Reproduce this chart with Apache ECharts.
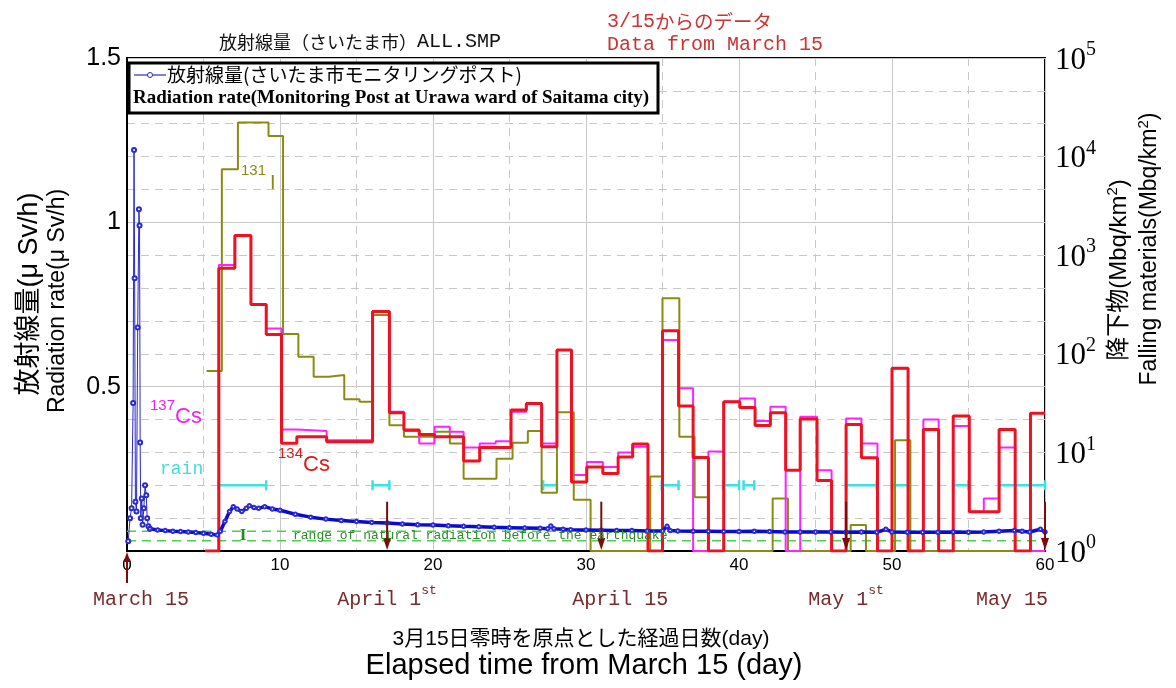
<!DOCTYPE html>
<html>
<head>
<meta charset="utf-8">
<script src="https://cdn.jsdelivr.net/npm/echarts@6/dist/echarts.min.js"></script>
<style>
html,body{margin:0;padding:0;background:#fff}
#chart{width:1176px;height:688px}
</style>
</head>
<body>
<div id="chart"></div>
<script>
// ---- data -------------------------------------------------------------
// Not-detected daily fallout is drawn on the baseline of the log axis.
const ND = 1;

// Air dose rate at the monitoring post (uSv/h), [elapsed day, value]
const doseEarly = [
  [0.08,0.03],[0.2,0.10],[0.3,0.13],[0.4,0.45],[0.46,1.22],[0.5,0.83],[0.55,0.15],
  [0.62,0.12],[0.7,0.68],[0.78,1.04],[0.82,0.99],[0.86,0.33],[0.9,0.10],[0.96,0.16],
  [1.02,0.08],[1.1,0.13],[1.18,0.20],[1.26,0.17],[1.32,0.10],[1.4,0.075],[1.5,0.068]
];
const doseLater = [
  [1.5,0.068],[2,0.064],[2.5,0.062],[3,0.060],[3.5,0.059],[4,0.058],[4.5,0.056],[5,0.054],
  [5.5,0.051],[5.9,0.049],[6.1,0.060],[6.4,0.090],[6.7,0.120],[6.95,0.135],[7.2,0.128],
  [7.5,0.120],[7.8,0.130],[8.0,0.138],[8.3,0.132],[8.6,0.130],[9.0,0.135],[9.5,0.128],
  [10,0.124],[11,0.112],[12,0.103],[13,0.097],[14,0.093],[15,0.090],[16,0.087],[17,0.085],
  [18,0.082],[19,0.080],[20,0.079],[21,0.077],[22,0.075],[23,0.074],[24,0.072],[25,0.071],
  [26,0.070],[27,0.069],[27.5,0.068],[27.7,0.076],[27.9,0.068],[28.5,0.066],[29,0.065],
  [30,0.064],[31,0.063],[32,0.062],[33,0.062],[34,0.061],[35,0.061],[35.3,0.075],[35.5,0.062],
  [36,0.061],[37,0.060],[38,0.060],[39,0.059],[40,0.059],[41,0.060],[42,0.059],[43,0.058],
  [44,0.058],[45,0.058],[46,0.058],[47,0.057],[48,0.058],[49,0.057],[49.6,0.066],[50,0.058],
  [51,0.057],[52,0.057],[53,0.057],[54,0.058],[55,0.057],[56,0.058],[57,0.060],[58,0.062],
  [58.5,0.060],[59,0.058],[59.7,0.066],[60,0.058]
];

// Natural background range before the earthquake (uSv/h)
const naturalRange = [0.031, 0.060];

// Daily fallout (MBq/km2): interval edges (day) and the value for each interval
const i131Edges  = [5.2,6.2,7.25,9.25,10.2,11.2,12.2,13.2,14.2,15.2,16.05,17.15,18.1,19.1,20.1,21.1,22.0,24.15,25.2,26.2,27.1,28.1,29.2,30.3,34.2,35.0,36.1,37.1,38.0,42.2,43.2,47.3,48.3,50.2,51.2,60];
const i131Values = [67,7430,22200,16200,159,93.6,58.6,61,34.5,32.7,248,18.9,14.4,14.4,16.2,12.3,5.4,8.6,12.5,16.5,3.9,25.5,3.3,ND,5.7,366,14.4,3.5,ND,3.4,ND,1.83,ND,13.3,ND];

const cs137Edges  = [5.1,6.0,7.05,8.1,9.1,10.1,11.1,13.05,16.05,17.15,18.1,19.1,20.1,21.1,22.0,23.05,24.1,25.1,26.1,27.1,28.1,29.05,30.05,31.1,32.1,33.05,34.05,35.0,36.05,37.0,38.0,39.0,40.05,41.05,42.05,43.05,44.0,45.1,46.05,47.0,48.0,49.05,50.0,51.05,52.05,53.05,54.0,55.05,56.0,57.0,58.05,60];
const cs137Values = [ND,795,1580,317,181,17.1,16.5,13.3,268,25.9,16.5,12.3,18.2,16.2,11.2,12.3,13.0,25.9,31.4,12.3,109,5.9,8.0,7.1,10.0,11.4,ND,138,44.7,ND,10.2,32.7,35.3,20.8,29.1,ND,23,6.6,ND,22.1,12.3,ND,71.3,ND,21.6,ND,18.5,2.5,3.4,11.2,ND];

const cs134Edges  = [5.1,6.0,7.05,8.1,9.1,10.1,11.1,13.05,16.05,17.15,18.1,19.1,20.1,22.0,23.05,25.1,26.1,27.1,28.1,29.05,30.05,31.1,32.1,33.05,34.05,35.0,36.05,37.0,38.0,39.0,40.05,41.05,42.05,43.05,44.0,45.1,46.05,47.0,48.0,49.05,50.0,51.05,52.05,53.05,54.0,55.05,57.0,58.05,59.05,60];
const cs134Values = [ND,736,1580,317,157,12.4,14.4,12.8,268,25.3,16.9,15.2,14.4,8.2,11.2,26.9,31.4,11.4,109,5.0,7.1,6.1,9.0,12.2,ND,171,29.5,8.9,ND,32.7,28.6,18.7,25.3,6.6,21.8,5.2,ND,19.2,8.8,ND,71.3,ND,17.1,ND,23.4,2.5,17.1,ND,24.9];

// Rain periods [start day, end day] and the level they are drawn at (uSv/h scale)
const rainPeriods = [[6.0,9.1],[16.05,17.15],[27.2,28.1],[34.95,36.05],[38.95,40.0],[40.3,41.0],[47.0,49.0],[50.0,51.05],[54.0,55.0],[57.0,60.0]];
const rainLevel = 0.2;

// Calendar marks along the elapsed-day axis
const dateMarkDays = [0, 17, 31, 47, 61];
const dateMarkLabels = ['{m|March 15}', '{m|April 1}{s|st}', '{m|April 15}', '{m|May 1}{s|st}', '{m|May 15}'];

// Axis settings
const xMax = 60, xMajor = 10, xMinor = 5;
const doseMax = 1.5, doseMajor = 0.5, doseMinor = 0.1;
const falloutMin = 1, falloutMax = 100000;

// ---- helpers ----------------------------------------------------------
function stepPoints(edges, values) {
  return edges.map((e, i) => [e, values[Math.min(i, values.length - 1)]]);
}

const SANS = "'Liberation Sans', 'Noto Sans CJK JP', sans-serif";
const SERIF = "'Liberation Serif', serif";
const MONO = "'Liberation Mono', monospace";
const CJK = "'Noto Sans CJK JP', sans-serif";
const GRID = '#c8c8c8';

const chart = echarts.init(document.getElementById('chart'), null, {renderer: 'canvas'});

const option = {
  animation: false,
  backgroundColor: '#fff',
  grid: {left: 127, right: 131, top: 58, bottom: 137, show: true, borderColor: '#000', borderWidth: 2, backgroundColor: '#fff'},
  xAxis: [
    {
      type: 'value', min: 0, max: xMax, interval: xMajor,
      axisLine: {show: true, onZero: false, lineStyle: {color: '#000', width: 2}},
      axisTick: {show: false},
      axisLabel: {fontSize: 17, color: '#000', fontFamily: SANS, margin: 6},
      splitLine: {show: true, lineStyle: {color: GRID, width: 1}}
    },
    {
      type: 'value', min: 0, max: xMax, interval: xMinor, position: 'bottom',
      axisLine: {show: false}, axisTick: {show: false}, axisLabel: {show: false},
      splitLine: {show: true, lineStyle: {color: GRID, width: 1, type: [8, 6]}}
    }
  ],
  yAxis: [
    {
      type: 'value', min: 0, max: doseMax, interval: doseMajor, position: 'left',
      axisLine: {show: true, onZero: false, lineStyle: {color: '#000', width: 2}},
      axisTick: {show: false},
      axisLabel: {fontSize: 25, color: '#000', fontFamily: SANS, margin: 6,
        formatter: v => (v === 0 ? '' : String(v))},
      splitLine: {show: true, lineStyle: {color: GRID, width: 1}}
    },
    {
      type: 'log', logBase: 10, min: falloutMin, max: falloutMax, position: 'right',
      axisLine: {show: true, lineStyle: {color: '#000', width: 2}},
      axisTick: {show: false},
      splitLine: {show: false},
      axisLabel: {
        margin: 10, color: '#000',
        formatter: v => '{b|10}{s|' + Math.round(Math.log10(v)) + '}',
        rich: {
          b: {fontSize: 31, fontFamily: SERIF, color: '#000', lineHeight: 36, verticalAlign: 'bottom'},
          s: {fontSize: 20, fontFamily: SERIF, color: '#000', lineHeight: 36, verticalAlign: 'top'}
        }
      }
    },
    {
      type: 'value', min: 0, max: doseMax, interval: doseMinor, position: 'left',
      axisLine: {show: false}, axisTick: {show: false}, axisLabel: {show: false},
      splitLine: {show: true, lineStyle: {color: GRID, width: 1, type: [8, 6]}}
    }
  ],
  series: [
    // background range lines
    ...naturalRange.map(v => ({
      type: 'line', xAxisIndex: 0, yAxisIndex: 0, z: 3, silent: true,
      data: [[0, v], [xMax, v]], showSymbol: false,
      lineStyle: {color: '#4ccf4c', width: 1.5, type: [9, 6]}
    })),
    // rain periods
    {
      type: 'custom', xAxisIndex: 0, yAxisIndex: 0, z: 4,
      data: rainPeriods.map(p => [p[0], p[1], rainLevel]),
      encode: {x: [0, 1], y: 2},
      renderItem(params, api) {
        const a = api.coord([api.value(0), api.value(2)]);
        const b = api.coord([api.value(1), api.value(2)]);
        const h = 5;
        const st = {stroke: '#3fe0e0', lineWidth: 2.5};
        return {type: 'group', children: [
          {type: 'line', shape: {x1: a[0], y1: a[1], x2: b[0], y2: b[1]}, style: st},
          {type: 'line', shape: {x1: a[0], y1: a[1] - h, x2: a[0], y2: a[1] + h}, style: st},
          {type: 'line', shape: {x1: b[0], y1: b[1] - h, x2: b[0], y2: b[1] + h}, style: st}
        ]};
      }
    },
    // iodine-131
    {
      type: 'line', name: '131I', xAxisIndex: 0, yAxisIndex: 1, z: 5, step: 'end',
      data: stepPoints(i131Edges, i131Values), showSymbol: false,
      lineStyle: {color: '#8b8b14', width: 2}
    },
    // caesium-137
    {
      type: 'line', name: '137Cs', xAxisIndex: 0, yAxisIndex: 1, z: 6, step: 'end',
      data: stepPoints(cs137Edges, cs137Values), showSymbol: false,
      lineStyle: {color: '#ff22ff', width: 2}
    },
    // caesium-134
    {
      type: 'line', name: '134Cs', xAxisIndex: 0, yAxisIndex: 1, z: 7, step: 'end',
      data: stepPoints(cs134Edges, cs134Values), showSymbol: false,
      lineStyle: {color: '#f01020', width: 3}
    },
    // dose rate
    {
      type: 'line', name: 'doseEarly', xAxisIndex: 0, yAxisIndex: 0, z: 8,
      data: doseEarly, symbol: 'emptyCircle', symbolSize: 4, showSymbol: true,
      lineStyle: {color: '#2a2ac8', width: 1},
      itemStyle: {color: '#2a2ac8', borderWidth: 1}
    },
    {
      type: 'line', name: 'doseLater', xAxisIndex: 0, yAxisIndex: 0, z: 8,
      data: doseLater, symbol: 'emptyCircle', symbolSize: 3.5, showSymbol: true,
      lineStyle: {color: '#0a0ad0', width: 3.5},
      itemStyle: {color: '#2a2ad8', borderWidth: 1}
    },
    // calendar arrows and their labels
    {
      type: 'custom', xAxisIndex: 0, yAxisIndex: 0, z: 10, clip: false,
      data: dateMarkDays.map((d, i) => [Math.min(d, xMax), i]),
      encode: {x: 0},
      renderItem(params, api) {
        const idx = api.value(1);
        const base = api.coord([api.value(0), 0]);
        const x = base[0], y0 = base[1];
        const col = '#7a0c0c';
        const kids = [];
        if (idx === 0) {
          kids.push({type: 'line', shape: {x1: x, y1: y0 + 32, x2: x, y2: y0 + 6}, style: {stroke: col, lineWidth: 2}});
          kids.push({type: 'polygon', shape: {points: [[x, y0 + 1], [x - 3.5, y0 + 11], [x + 3.5, y0 + 11]]}, style: {fill: col}});
        } else {
          const top = api.coord([api.value(0), 0.15])[1];
          kids.push({type: 'line', shape: {x1: x, y1: top, x2: x, y2: y0 - 6}, style: {stroke: col, lineWidth: 2}});
          kids.push({type: 'polygon', shape: {points: [[x, y0 - 1], [x - 4, y0 - 13], [x + 4, y0 - 13]]}, style: {fill: col}});
        }
        const shift = [14, 0, 19, 0, -33][idx];
        kids.push({
          type: 'text', x: x + shift, y: y0 + 46,
          style: {
            text: dateMarkLabels[idx], align: 'center', verticalAlign: 'middle',
            rich: {
              m: {fontSize: 20, fontFamily: MONO, fill: '#7a2a2a', lineHeight: 26, verticalAlign: 'bottom'},
              s: {fontSize: 13, fontFamily: MONO, fill: '#7a2a2a', lineHeight: 26, verticalAlign: 'top'}
            }
          }
        });
        return {type: 'group', children: kids};
      }
    }
  ],
  graphic: [
    // title
    {type: 'text', x: 219, y: 42, z: 100, style: {
      text: '{j|放射線量（さいたま市）}{m|ALL.SMP}', verticalAlign: 'middle',
      rich: {j: {fontSize: 18, fontFamily: CJK, fill: '#111'}, m: {fontSize: 20, fontFamily: MONO, fill: '#111'}}
    }},
    {type: 'text', x: 607, y: 22, z: 100, style: {
      text: '{m|3/15}{j|からのデータ}', verticalAlign: 'middle',
      rich: {j: {fontSize: 19.5, fontFamily: CJK, fill: '#cc3333'}, m: {fontSize: 20, fontFamily: MONO, fill: '#cc3333'}}
    }},
    {type: 'text', x: 607, y: 45, z: 100, style: {
      text: 'Data from March 15', verticalAlign: 'middle', fontSize: 20, fontFamily: MONO, fill: '#cc3333'
    }},
    // legend box
    {type: 'rect', z: 100, shape: {x: 129, y: 63, width: 529, height: 50},
      style: {fill: '#fff', stroke: '#000', lineWidth: 3}},
    {type: 'line', z: 101, shape: {x1: 134, y1: 75, x2: 166, y2: 75}, style: {stroke: '#2a2ac8', lineWidth: 1.2}},
    {type: 'circle', z: 102, shape: {cx: 150, cy: 75, r: 2.5}, style: {fill: '#fff', stroke: '#2a2ac8', lineWidth: 1}},
    {type: 'text', x: 167, y: 75, z: 101, style: {
      text: '放射線量(さいたま市モニタリングポスト)', verticalAlign: 'middle', fontSize: 19, fontFamily: CJK, fill: '#000'
    }},
    {type: 'text', x: 133, y: 98, z: 101, style: {
      text: 'Radiation rate(Monitoring Post at Urawa ward of Saitama city)', verticalAlign: 'middle',
      fontSize: 19, fontWeight: 'bold', fontFamily: SERIF, fill: '#000'
    }},
    // axis names
    {type: 'text', x: 30, y: 294, rotation: Math.PI / 2, z: 100, style: {
      text: '放射線量(μ Sv/h)', align: 'center', verticalAlign: 'middle', fontSize: 27, fontFamily: SANS, fill: '#000'
    }},
    {type: 'text', x: 58, y: 301, rotation: Math.PI / 2, z: 100, style: {
      text: 'Radiation rate(μ Sv/h)', align: 'center', verticalAlign: 'middle', fontSize: 23, fontFamily: SANS, fill: '#000'
    }},
    {type: 'text', x: 1119, y: 270, rotation: Math.PI / 2, z: 100, style: {
      text: '降下物(Mbq/km{s|2})', align: 'center', verticalAlign: 'middle', fontSize: 24, fontFamily: SANS, fill: '#000',
      rich: {s: {fontSize: 15, fontFamily: SANS, fill: '#000', verticalAlign: 'top', lineHeight: 28}}
    }},
    {type: 'text', x: 1150, y: 249, rotation: Math.PI / 2, z: 100, style: {
      text: 'Falling materials(Mbq/km{s|2})', align: 'center', verticalAlign: 'middle', fontSize: 23, fontFamily: SANS, fill: '#000',
      rich: {s: {fontSize: 15, fontFamily: SANS, fill: '#000', verticalAlign: 'top', lineHeight: 28}}
    }},
    {type: 'text', x: 581, y: 639, z: 100, style: {
      text: '3月15日零時を原点とした経過日数(day)', align: 'center', verticalAlign: 'middle', fontSize: 21, fontFamily: SANS, fill: '#000'
    }},
    {type: 'text', x: 584, y: 666, z: 100, style: {
      text: 'Elapsed time from March 15 (day)', align: 'center', verticalAlign: 'middle', fontSize: 29, fontFamily: SANS, fill: '#000'
    }},
    // series annotations
    {type: 'text', x: 241, y: 163, z: 100, style: {
      text: '{s|131}{b|I}', rich: {
        s: {fontSize: 15, fontFamily: SANS, fill: '#8b8b14', verticalAlign: 'top', lineHeight: 30},
        b: {fontSize: 20, fontFamily: SANS, fill: '#8b8b14', verticalAlign: 'bottom', lineHeight: 30, padding: [0, 0, 0, 4]}
      }
    }},
    {type: 'text', x: 150, y: 398, z: 100, style: {
      text: '{s|137}{b|Cs}', rich: {
        s: {fontSize: 15, fontFamily: SANS, fill: '#ee22ee', verticalAlign: 'top', lineHeight: 30},
        b: {fontSize: 22, fontFamily: SANS, fill: '#ee22ee', verticalAlign: 'bottom', lineHeight: 30}
      }
    }},
    {type: 'text', x: 278, y: 446, z: 100, style: {
      text: '{s|134}{b|Cs}', rich: {
        s: {fontSize: 15, fontFamily: SANS, fill: '#dd1a1a', verticalAlign: 'top', lineHeight: 30},
        b: {fontSize: 22, fontFamily: SANS, fill: '#dd1a1a', verticalAlign: 'bottom', lineHeight: 30}
      }
    }},
    {type: 'text', x: 160, y: 469, z: 100, style: {
      text: 'rain', verticalAlign: 'middle', fontSize: 18, fontFamily: MONO, fill: '#40dcdc'
    }},
    {type: 'text', x: 243, y: 536, z: 100, style: {
      text: 'I', align: 'center', verticalAlign: 'middle', fontSize: 17, fontWeight: 'bold', fontFamily: SERIF, fill: '#1f8a1f'
    }},
    {type: 'text', x: 293, y: 536, z: 100, style: {
      text: 'range of natural radiation before the earthquake', verticalAlign: 'middle', fontSize: 13, fontFamily: MONO, fill: '#2a8a2a'
    }}
  ]
};

chart.setOption(option);
</script>
</body>
</html>
